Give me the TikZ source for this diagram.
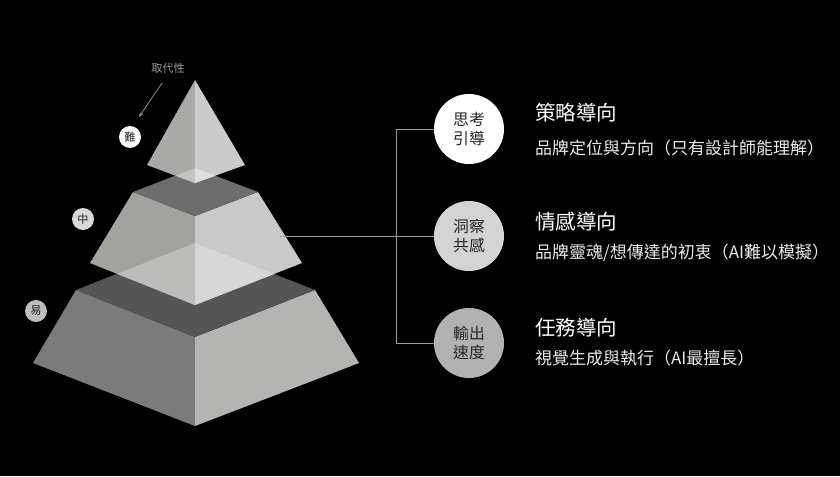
\documentclass[tikz,border=0pt]{standalone}
\usepackage{fontspec}
\setmainfont{Noto Sans CJK TC}
\usetikzlibrary{arrows.meta}

\definecolor{lowleft}{HTML}{7B7B7B}
\definecolor{lowright}{HTML}{B4B4B2}
\definecolor{lowtop}{HTML}{555555}
\definecolor{midleft}{HTML}{A2A29F}
\definecolor{midright}{HTML}{C9C9C9}
\definecolor{midtop}{HTML}{6D6D6D}
\definecolor{midleftlit}{HTML}{BCBCBA}
\definecolor{midrightlit}{HTML}{D7D7D7}
\definecolor{topleft}{HTML}{A9A9A7}
\definecolor{topright}{HTML}{CBCBCB}
\definecolor{topleftlit}{HTML}{C3C3C1}
\definecolor{toprightlit}{HTML}{DEDEDE}
\definecolor{linkgray}{HTML}{9A9A9A}

\begin{document}
\begin{tikzpicture}[x=0.03cm, y=-0.03cm,
    stage/.style={circle, minimum size=2.1cm, inner sep=0pt, align=center, text=black!85, font=\fontsize{13.5}{16}\selectfont},
    level/.style={circle, minimum size=0.66cm, inner sep=0pt, text=black!85, font=\fontsize{9.5}{10}\selectfont},
    heading/.style={anchor=west, inner sep=0pt, text=white, font=\fontsize{17.5}{20}\selectfont},
    detail/.style={anchor=west, inner sep=0pt, text=white!92!black, font=\fontsize{14.5}{17}\selectfont},
    link/.style={draw=linkgray, line width=0.8pt}]
  \useasboundingbox[fill=black] (0,0) rectangle (840,476);

  % bottom block
  \fill[lowleft]  (76,290) -- (195,337) -- (195,426) -- (33,363) -- cycle;
  \fill[lowright] (195,337) -- (315,290) -- (359,363) -- (195,426) -- cycle;
  \fill[lowtop]   (76,290) -- (195,243) -- (315,290) -- (195,337) -- cycle;

  % middle block
  \fill[midleft]  (133,192) -- (195,216) -- (195,305) -- (90,263) -- cycle;
  \fill[midright] (195,216) -- (258,192) -- (302,263) -- (195,305) -- cycle;
  \fill[midtop]   (133,192) -- (195,168) -- (258,192) -- (195,216) -- cycle;
  \begin{scope}
    \clip (76,290) -- (195,243) -- (315,290) -- (195,337) -- cycle;
    \fill[midleftlit]  (133,192) -- (195,216) -- (195,305) -- (90,263) -- cycle;
    \fill[midrightlit] (195,216) -- (258,192) -- (302,263) -- (195,305) -- cycle;
  \end{scope}

  % top block
  \fill[topleft]  (195,80) -- (147,165) -- (195,183) -- cycle;
  \fill[topright] (195,80) -- (195,183) -- (245,165) -- cycle;
  \begin{scope}
    \clip (133,192) -- (195,168) -- (258,192) -- (195,216) -- cycle;
    \fill[topleftlit]  (195,80) -- (147,165) -- (195,183) -- cycle;
    \fill[toprightlit] (195,80) -- (195,183) -- (245,165) -- cycle;
  \end{scope}

  % levels
  \node[level, fill=white]       (hard) at (130,137) {難};
  \node[level, fill=white!85!black] (mid)  at (83,219)  {中};
  \node[level, fill=white!74!black] (easy) at (36,311)  {易};
  \node[text=linkgray, font=\fontsize{9.5}{10}\selectfont] (replace) at (168,68) {取代性};
  \coordinate (arrtail) at (162,83);
  \coordinate (arrhead) at (139,117);
  \draw[link, line width=0.6pt, -{Stealth[length=4pt, width=3pt]}] (arrtail) -- (arrhead);

  % stages
  \node[stage, fill=white]          (think) at (469,129) {思考\\引導};
  \node[stage, fill=white!83!black] (feel)  at (469,236) {洞察\\共感};
  \node[stage, fill=white!70!black] (speed) at (469,343) {輸出\\速度};

  \coordinate (midface) at (280,236);
  \draw[link] (think.west) -- ++(-37,0) |- (speed.west);
  \draw[link] (midface) -- (feel.west);

  \node[heading] (strategy) at (535,113) {策略導向};
  \node[detail]  (brand)    at (535,148) {品牌定位與方向（只有設計師能理解）};
  \node[heading] (emotion)  at (535,222) {情感導向};
  \node[detail]  (soul)     at (535,253) {品牌靈魂/想傳達的初衷（AI難以模擬）};
  \node[heading] (task)     at (535,328) {任務導向};
  \node[detail]  (visual)   at (535,358) {視覺生成與執行（AI最擅長）};
\end{tikzpicture}
\end{document}
